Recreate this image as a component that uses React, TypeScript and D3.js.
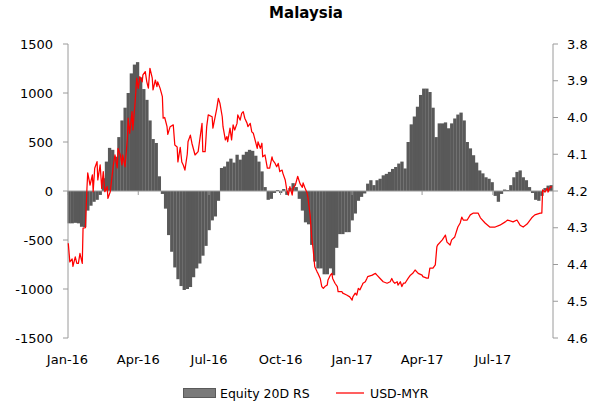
import React from "react";
import * as d3 from "d3";

// ---- Data ----
const title = "Malaysia";
const seriesNames = ["Equity 20D RS", "USD-MYR"];
const startDate = new Date(2016, 0, 1);
const endDate = new Date(2017, 8, 17);
const xTickLabels = ["Jan-16", "Apr-16", "Jul-16", "Oct-16", "Jan-17", "Apr-17", "Jul-17"];
const xTickDates = [
  new Date(2016, 0, 1), new Date(2016, 3, 1), new Date(2016, 6, 1), new Date(2016, 9, 1),
  new Date(2017, 0, 1), new Date(2017, 3, 1), new Date(2017, 6, 1),
];
const leftTicks = [-1500, -1000, -500, 0, 500, 1000, 1500];
const rightTicks = [3.8, 3.9, 4.0, 4.1, 4.2, 4.3, 4.4, 4.5, 4.6];

// Equity 20D rolling sum, one value every 4 days starting 2016-01-01
const barStepDays = 4;
const equityRS = [
  -330, -330, -325, -330, -365, -370, -200, -150, -110, -90, -40, 130, 300, 440, 420, 350,
  550, 720, 850, 1000, 1200, 1290, 1315, 1160, 1040, 930, 720, 530, 490, 150, -30, -180,
  -450, -620, -780, -900, -970, -1010, -1000, -980, -880, -790, -740, -660, -560, -400, -300, -260,
  -100, 235, 250, 300, 330, 290, 370, 320, 370, 400, 420, 410, 360, 300, 200, 40,
  -90, -80, -20, 10, -20, 20, -40, 30, 80, 40, -80, -200, -320, -340, -550, -720,
  -790, -790, -850, -850, -790, -860, -580, -440, -440, -420, -420, -300, -230, -100, -60, -25,
  75, 110, 60, 110, 125, 160, 175, 195, 225, 245, 280, 300, 230, 500, 680, 760,
  860, 980, 1045, 1045, 1010, 850, 550, 690, 690, 700, 640, 690, 740, 780, 800, 720,
  500, 435, 365, 290, 210, 180, 140, 125, 90, -50, -110, -30, 15, 10, 60, 140,
  195, 210, 140, 110, 40, -20, -90, -100, -50, 30, 55, 60,
];

// USD-MYR: [days since 2016-01-01, rate]
const usdMyr: [number, number][] = [
  [1,4.342],[3,4.393],[6,4.385],[7,4.405],[10,4.379],[12,4.397],[14,4.397],[16,4.37],[19,4.397],[20,4.301],
  [23,4.30],[25,4.193],[26,4.151],[29,4.184],[32,4.156],[33,4.202],[35,4.138],[38,4.12],[39,4.17],[42,4.129],
  [44,4.193],[46,4.147],[48,4.202],[51,4.188],[52,4.22],[55,4.202],[57,4.165],[59,4.129],[61,4.102],[64,4.137],
  [65,4.084],[68,4.102],[70,4.129],[71,4.102],[74,4.134],[77,4.057],[78,4.002],[80,4.043],[83,3.984],[84,4.034],
  [87,3.957],[89,3.893],[91,3.921],[93,3.889],[96,3.903],[97,3.884],[100,3.875],[102,3.903],[104,3.92],[106,3.866],
  [109,3.893],[110,3.925],[113,3.898],[115,3.916],[116,3.903],[119,3.92],[122,3.943],[123,4.002],[125,4.0],[128,4.025],
  [129,4.046],[132,4.025],[136,4.02],[138,4.075],[141,4.08],[142,4.121],[145,4.081],[147,4.121],[149,4.13],[151,4.143],
  [154,4.10],[155,4.066],[158,4.048],[160,4.07],[164,4.102],[168,4.093],[173,4.016],[174,4.093],[177,4.093],[179,4.025],
  [181,3.993],[186,3.998],[187,4.029],[192,3.975],[194,3.948],[196,3.961],[199,3.998],[200,4.025],[203,4.061],[205,4.052],
  [206,4.066],[209,4.029],[211,4.061],[213,4.02],[215,4.034],[218,4.016],[219,3.993],[222,4.007],[224,3.989],[226,3.984],
  [228,4.002],[231,4.016],[232,4.025],[235,4.016],[237,4.039],[239,4.043],[244,4.084],[245,4.066],[248,4.084],[250,4.07],
  [251,4.107],[254,4.102],[257,4.138],[260,4.138],[263,4.107],[264,4.116],[267,4.125],[269,4.134],[271,4.125],[273,4.147],
  [276,4.143],[277,4.152],[280,4.17],[282,4.197],[284,4.211],[286,4.188],[289,4.211],[290,4.193],[293,4.184],[296,4.16],
  [299,4.18],[302,4.19],[303,4.178],[305,4.19],[308,4.205],[309,4.215],[312,4.265],[314,4.324],[316,4.361],[318,4.406],
  [321,4.42],[322,4.424],[325,4.438],[327,4.46],[329,4.465],[331,4.46],[334,4.456],[335,4.442],[338,4.429],[340,4.424],
  [341,4.438],[344,4.451],[347,4.46],[348,4.474],[353,4.474],[354,4.478],[359,4.483],[363,4.488],[366,4.497],[367,4.488],
  [370,4.478],[372,4.483],[374,4.465],[376,4.469],[379,4.456],[380,4.451],[383,4.447],[385,4.438],[386,4.433],[392,4.429],
  [396,4.424],[398,4.429],[402,4.438],[406,4.447],[411,4.451],[415,4.447],[417,4.438],[419,4.447],[421,4.451],[424,4.447],
  [425,4.456],[428,4.447],[430,4.46],[432,4.451],[434,4.451],[438,4.438],[441,4.429],[444,4.424],[447,4.415],[451,4.424],
  [456,4.429],[457,4.433],[462,4.437],[464,4.437],[466,4.41],[470,4.41],[473,4.401],[475,4.352],[476,4.347],[482,4.333],
  [486,4.32],[488,4.339],[492,4.347],[494,4.333],[498,4.325],[502,4.298],[505,4.287],[507,4.271],[509,4.279],[514,4.279],
  [518,4.265],[522,4.26],[528,4.26],[531,4.273],[537,4.287],[543,4.298],[550,4.298],[556,4.293],[563,4.284],[566,4.279],
  [573,4.284],[578,4.279],[582,4.293],[586,4.298],[591,4.29],[597,4.273],[601,4.265],[608,4.26],[610,4.26],[611,4.197],
  [614,4.203],[617,4.192],[618,4.203],[621,4.189],[623,4.189],
];

const addDays = (d: Date, n: number) => d3.timeDay.offset(d, n);

export default function App() {
  const W = 600, H = 407;
  const left = 68, right = 553, top = 44, bottom = 338;
  const x = d3.scaleTime().domain([startDate, endDate]).range([67.5, 553.5]);
  const yL = d3.scaleLinear().domain([-1500, 1500]).range([bottom, top]);
  const yR = d3.scaleLinear().domain([4.6, 3.8]).range([bottom, top]);
  const y0 = yL(0);
  const font = "'DejaVu Sans', sans-serif";
  const axisColor = "#9a9a9a";

  const line = d3
    .line<[number, number]>()
    .x((d) => x(addDays(startDate, d[0])))
    .y((d) => yR(d[1]));

  return (
    <svg width={W} height={H} style={{ position: "absolute", left: 0, top: 0, background: "#fff" }}>
      <text x={306} y={17.5} textAnchor="middle" fontFamily={font} fontWeight="bold" fontSize={15} fill="#000">
        {title}
      </text>

      {/* bars */}
      <g fill="#595959">
        {equityRS.map((v, i) => {
          const d0 = addDays(startDate, i * barStepDays);
          const d1 = addDays(startDate, (i + 1) * barStepDays);
          const x0 = x(d0);
          const x1 = x(d1);
          const ya = yL(Math.max(0, v));
          const yb = yL(Math.min(0, v));
          return <rect key={i} x={x0} y={ya} width={x1 - x0 + 0.2} height={yb - ya} />;
        })}
      </g>

      {/* zero axis with ticks */}
      <line x1={left} x2={right} y1={y0} y2={y0} stroke={axisColor} strokeWidth={1} />
      {xTickDates.map((d, i) => (
        <line key={i} x1={x(d)} x2={x(d)} y1={y0} y2={y0 + 4} stroke={axisColor} />
      ))}

      {/* left axis */}
      <line x1={left} x2={left} y1={top} y2={bottom} stroke={axisColor} />
      {leftTicks.map((t) => (
        <g key={t}>
          <line x1={left - 5} x2={left} y1={yL(t)} y2={yL(t)} stroke={axisColor} />
          <text x={53} y={yL(t)} dy="0.36em" textAnchor="end" fontFamily={font} fontSize={13} fill="#000">
            {t}
          </text>
        </g>
      ))}

      {/* right axis */}
      <line x1={right} x2={right} y1={top} y2={bottom} stroke={axisColor} />
      {rightTicks.map((t) => (
        <g key={t}>
          <line x1={right} x2={right + 5} y1={yR(t)} y2={yR(t)} stroke={axisColor} />
          <text x={567} y={yR(t)} dy="0.36em" textAnchor="start" fontFamily={font} fontSize={13} fill="#000">
            {t.toFixed(1)}
          </text>
        </g>
      ))}

      {/* x labels */}
      {xTickDates.map((d, i) => (
        <text key={i} x={x(d)} y={364} textAnchor="middle" fontFamily={font} fontSize={13} fill="#000">
          {xTickLabels[i]}
        </text>
      ))}

      {/* FX line */}
      <path d={line(usdMyr) || ""} fill="none" stroke="#ff0000" strokeWidth={1.25} strokeLinejoin="round" />

      {/* legend */}
      <rect x={183.5} y={388.5} width={32} height={9} fill="#7a7a7a" stroke="#5a5a5a" />
      <text x={220} y={397.5} fontFamily={font} fontSize={12.5} fill="#000">
        {seriesNames[0]}
      </text>
      <line x1={336} x2={364} y1={393} y2={393} stroke="#ff0000" strokeWidth={1.25} />
      <text x={370} y={397.5} fontFamily={font} fontSize={12.5} fill="#000">
        {seriesNames[1]}
      </text>
    </svg>
  );
}
